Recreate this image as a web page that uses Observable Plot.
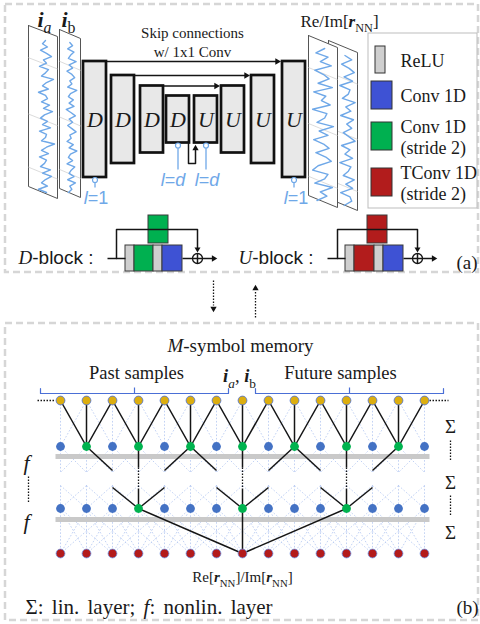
<!DOCTYPE html>
<html><head><meta charset="utf-8">
<script src="https://cdn.jsdelivr.net/npm/d3@7"></script>
<script src="https://cdn.jsdelivr.net/npm/@observablehq/plot@0.6"></script>
<style>body{margin:0;background:#fff}svg{display:block}</style>
</head><body><div id="chart"></div>
<script>
// ---------------- data ----------------
const encoderBlocks = ["D","D","D","D"];
const decoderBlocks = ["U","U","U","U"];
const blockLevels = [1,2,3,4,4,3,2,1];
const skipText = ["Skip connections","w/ 1x1 Conv"];
const dilationBlocks = [0,3,4,7];
const dilationLabels = ["{i:l}=1","{i:l}={i:d}","{i:l}={i:d}","{i:l}=1"];
const inputLabels = ["{bi:i}{isub:a}","{bi:i}{sub:b}"];
const outputLabel = "Re/Im[{bi:r}{sub:NN}]";
const legendKinds = ["relu","conv","conv2","tconv"];
const legendLabels = ["ReLU","Conv 1D","Conv 1D\n(stride 2)","TConv 1D\n(stride 2)"];
const dBlockSeq = ["relu","conv2","relu","conv"];
const uBlockSeq = ["relu","tconv","relu","conv"];
const blockTitles = ["{m:D}-block :","{m:U}-block :"];
const waveIa = [0.1,-0.2,0.3,-0.4,0.2,0.7,-0.1,0.2,-0.5,0.4,0.1,-0.3,0.9,0.2,-0.2,0.4,-0.6,0.1,0.3,-0.3,0.5,-0.1,0.8,0.0,-0.4,0.3,-0.2,0.6,-0.5,0.2,0.1,-0.3,1.0,0.2,-0.3,0.4,-0.5,0.2,0.0,-0.4,0.6,-0.2,0.7,0.1,-0.3,0.3,-0.6,0.2];
const waveIb = [-0.1,0.3,-0.4,0.5,0.0,-0.3,0.8,-0.2,0.3,-0.5,0.2,0.6,-0.1,0.2,-0.4,0.9,0.0,-0.3,0.4,-0.2,0.5,-0.6,0.1,0.7,-0.2,0.3,-0.4,0.2,0.8,-0.1,0.1,-0.5,0.4,-0.2,0.9,0.0,-0.3,0.3,-0.5,0.6,0.1,-0.2,0.5,-0.4,0.7,-0.1,0.2,-0.3];
const waveRe = [0.2,-0.6,0.5,-0.2,0.8,-0.7,0.1,0.6,-0.4,0.9,-0.8,0.3,-0.1,0.7,-0.9,0.4,0.2,-0.5,1.0,-0.3,0.5,-0.8,0.1,0.6,-0.6,0.3,0.8,-0.4,-0.9,0.5,0.2,-0.7,0.9,-0.2,0.4,-0.5];
const waveIm = [-0.3,0.5,-0.7,0.2,0.8,-0.4,0.6,-0.9,0.3,0.1,-0.6,0.9,-0.2,0.4,-0.8,0.7,-0.1,0.5,-0.5,0.2,0.9,-0.7,0.3,-0.3,0.6,-0.9,0.4,0.1,-0.5,0.8,-0.2,0.6,-0.8,0.3,0.5,-0.4];
const memoryTitle = "{i:M}-symbol memory";
const sampleLabels = ["Past samples","{bi:i}{isub:a}, {bi:i}{sub:b}","Future samples"];
const memoryTaps = 15;
const layer1Active = [1,3,5,7,9,11,13];
const layer2Active = [3,7,11];
const outputTap = 7;
const outputText = "Re[{bi:r}{sub:NN}]/Im[{bi:r}{sub:NN}]";
const leftLayerLabels = ["{i:f}","{i:f}"];
const rightLayerLabels = ["Σ","Σ","Σ"];
const footnote = "Σ: lin. layer; {i:f}: nonlin. layer";
const panelTags = ["(a)","(b)"];

// ---------------- layout ----------------
const serif = "Liberation Serif, Times New Roman, serif";
const sans = "Liberation Sans, Arial, sans-serif";
const COL = {relu:"#cfcfcf", conv:"#3e52d4", conv2:"#00b050", tconv:"#b21c1c", wave:"#6fa8e8",
  blue:"#4472c4", yellow:"#dcae10", green:"#00b34f", red:"#b31b1b", brace:"#4a6fd6", lattice:"#9db8ee", lblue:"#6fa8e8"};

const rects = [], links = [], dots = [], tris = [], paths = [];
const L = (x1,y1,x2,y2,g="k") => links.push({x1,y1,x2,y2,g});
const tri = (x,y,dir,r=3.1) => { // tip position, dir: 0 up, 90 right, 180 down
  const d = 2*Math.sqrt(Math.PI*r*r/(3*Math.sqrt(3)));
  const rad = dir*Math.PI/180;
  tris.push({x: x - d*Math.sin(rad), y: y + d*Math.cos(rad), rot: dir, r});
};

// panels
const panels = [{x1:5,x2:478,y1:4,y2:272},{x1:5,x2:478,y1:323,y2:620}];

// U-net blocks
const blockW = 23, blockCy = 119;
const blockHalf = {1:58, 2:44, 3:33.5, 4:23.5};
const blockLeft = [83,111,140,166,194,221,251,282];
const blocks = encoderBlocks.concat(decoderBlocks).map((b,i)=>({t:b, x1:blockLeft[i], x2:blockLeft[i]+blockW,
  y1:blockCy-blockHalf[blockLevels[i]], y2:blockCy+blockHalf[blockLevels[i]], x:blockLeft[i]+blockW/2, y:blockCy}));
for (let i=0;i<3;i++){
  const a = blocks[i], b = blocks[7-i];
  L(a.x2, a.y1, b.x1-5, a.y1);
  tri(b.x1, a.y1, 90, 3.4);
}
// bottleneck
paths.push(...[[188,143],[188,163],[195,163],[195,150]].map(p=>({x:p[0],y:p[1],z:"bn",g:"k"})));
tri(195,143,0,3.1);

// dilation markers
const dilDx = [1,-5,1,2];
const dilCircles = [], dilTexts = [];
dilationBlocks.forEach((bi,k)=>{
  const b = blocks[bi];
  const deep = blockLevels[bi]===4;
  dilCircles.push({x:b.x, y:b.y2+2.5});
  links.push({x1:b.x,y1:b.y2+5,x2:b.x,y2:deep?169:187,g:"lb"});
  dilTexts.push({x:b.x+dilDx[k], y:deep?180:198, t:dilationLabels[k]});
});

// waveform panels
const wavePanels = [
  {id:"Im", pts:[[328,40],[357,52],[357,210],[328,198]], wave:waveIm, cx:347, amp:8.5, yt:55, yb:205},
  {id:"Re", pts:[[308,35],[337,47],[337,207],[308,195]], wave:waveRe, cx:322, amp:11, yt:48, yb:200},
  {id:"Ia", pts:[[28,25],[57,36],[57,198],[28,186]], wave:waveIa, cx:44, amp:10, yt:40, yb:192},
  {id:"Ib", pts:[[59,29],[80,38],[80,197],[59,188]], wave:waveIb, cx:70, amp:7, yt:42, yb:192}
];
const panelMarks = [];
for (const p of wavePanels){
  const poly = p.pts.concat([p.pts[0]]).map(q=>({x:q[0],y:q[1]}));
  panelMarks.push(Plot.line(poly,{x:"x",y:"y",fill:"white",stroke:"#555",strokeWidth:1}));
  const gl = [];
  [0.2,0.55,0.88].forEach((f,j)=>{
    const yl = p.pts[0][1] + f*(p.pts[3][1]-p.pts[0][1]);
    const yr = p.pts[1][1] + f*(p.pts[2][1]-p.pts[1][1]);
    gl.push({x1:p.pts[0][0],y1:yl,x2:p.pts[1][0],y2:yr});
  });
  panelMarks.push(Plot.link(gl,{x1:"x1",y1:"y1",x2:"x2",y2:"y2",stroke:"#d2d2d2",strokeWidth:0.8}));
  const n = p.wave.length;
  const w = p.wave.map((v,i)=>({x:p.cx+p.amp*v, y:p.yt+(p.yb-p.yt)*i/(n-1)}));
  panelMarks.push(Plot.line(w,{x:"x",y:"y",stroke:COL.wave,strokeWidth:1.4}));
}

// legend
const legendBox = [{x1:368,x2:477,y1:33,y2:208}];
const legendCy = [59.5,95,136,182];
const legendRects = legendKinds.map((k,i)=>({k, x1:k==="relu"?375:371, x2:k==="relu"?385:392, y1:legendCy[i]-(k==="relu"?13.5:14), y2:legendCy[i]+(k==="relu"?13.5:14)}));
const legendTexts = legendLabels.map((t,i)=>({t, x:400, y:legendCy[i]}));

// D-block / U-block
const blockDiagrams = [
  {seq:dBlockSeq, x0:125, inX:107, split:116, plus:197, top:"conv2", tx1:148, tx2:168, end:218, title:blockTitles[0], titleX:18},
  {seq:uBlockSeq, x0:345, inX:327, split:337, plus:417, top:"tconv", tx1:367, tx2:387, end:438, title:blockTitles[1], titleX:238}
];
const bw = {relu:9, conv:20, conv2:19, tconv:20};
const dTitles = [];
const plusCircles = [];
for (const d of blockDiagrams){
  const my = 258;
  L(d.inX, my, d.x0, my);
  paths.push(...[[d.split,my],[d.split,229],[d.plus,229],[d.plus,247]].map(p=>({x:p[0],y:p[1],z:"s"+d.x0,g:"k"})));
  tri(d.plus, 253, 180, 2.8);
  let x = d.x0;
  for (const k of d.seq){ rects.push({k, x1:x, x2:x+bw[k], y1:245, y2:271}); x += bw[k]; }
  rects.push({k:d.top, x1:d.tx1, x2:d.tx2, y1:215, y2:243});
  L(x, my, d.plus-5, my);
  plusCircles.push({x:d.plus, y:my});
  L(d.plus-5, my, d.plus+5, my); L(d.plus, my-5, d.plus, my+5);
  L(d.plus+5, my, d.end-5, my);
  tri(d.end, my, 90, 3.1);
  dTitles.push({t:d.title, x:d.titleX, y:257});
}

// arrows between panels
L(213,280,213,305,"dot"); tri(213,313,180,3.1);
L(255,317,255,291,"dot"); tri(255,283,0,3.1);

// memory network
const X = i => 60 + 26*i;
const yIn = 400, yL1 = 446, yL2 = 508, yOut = 553;
const inRange = i => i>=0 && i<memoryTaps;
const lat = [];
for (let i=0;i<memoryTaps;i++){
  for (const d of [-1,0,1]){
    if (inRange(i+d)){
      lat.push({x1:X(i+d),y1:yIn,x2:X(i),y2:yL1});
      lat.push({x1:X(i),y1:yL1,x2:X(i+d),y2:472});
      lat.push({x1:X(i+d),y1:485,x2:X(i),y2:yL2});
    }
  }
  for (const d of [-2,-1,0,1,2]) if (inRange(i+d)) lat.push({x1:X(i+d),y1:yL2,x2:X(i),y2:yOut});
}
const bands = [{x1:55,x2:429,y:456},{x1:55,x2:429,y:519}];
for (const k of layer1Active) for (const d of [-1,0,1]) if (inRange(k+d)) L(X(k+d),yIn,X(k),yL1);
for (const j of layer2Active){
  for (const d of [-2,2]){
    const k = j+d; if (!inRange(k)) continue;
    const s = Math.sign(d);
    L(X(k),yL1,X(k)-s*26,470);
    L(X(j)+s*26,487,X(j),yL2);
  }
  L(X(j),yL1,X(j),467); L(X(j),467,X(j),488,"dot"); L(X(j),488,X(j),yL2);
  L(X(j),yL2,X(outputTap),yOut);
}
L(37,yIn,55,yIn,"dot"); L(429,yIn,448,yIn,"dot");
const nodes = [];
for (let i=0;i<memoryTaps;i++){
  nodes.push({x:X(i),y:yIn,c:COL.yellow,s:COL.brace});
  nodes.push({x:X(i),y:yL1,c:layer1Active.includes(i)?COL.green:COL.blue,s:"none"});
  nodes.push({x:X(i),y:yL2,c:layer2Active.includes(i)?COL.green:COL.blue,s:"none"});
  nodes.push({x:X(i),y:yOut,c:COL.red,s:"#6d8fe0"});
}
// braces
const braces = [[X(0)-20, X(6)+12],[X(8)-13, X(14)+19]];
braces.forEach((b,i)=>{
  paths.push(...[[b[0],388],[b[0],393],[b[1],393],[b[1],388]].map(p=>({x:p[0],y:p[1],z:"br"+i,g:"br"})));
  links.push({x1:(b[0]+b[1])/2,y1:393,x2:(b[0]+b[1])/2,y2:387,g:"br"});
});
L(28,476,28,502,"dot");
L(450,440,450,460,"dot"); L(450,495,450,515,"dot");

// ---------------- draw ----------------
const T = (items, o) => Plot.text(items, {x:"x", y:"y", text:"t", fill:o.fill||"#1a1a1a",
  fontFamily:o.ff||serif, fontSize:o.fs, fontStyle:o.st, fontWeight:o.fw, textAnchor:o.ta||"middle", lineHeight:o.lh||1});
const linkG = (g, o) => Plot.link(links.filter(d=>d.g===g), {x1:"x1",y1:"y1",x2:"x2",y2:"y2", ...o});

const chart = Plot.plot({
  width: 480, height: 624, margin: 0,
  x: {domain:[0,480], range:[0,480], axis:null},
  y: {domain:[0,624], range:[0,624], axis:null},
  style: {background:"white"},
  marks: [
    Plot.rect(panels, {x1:"x1",x2:"x2",y1:"y1",y2:"y2",fill:"none",stroke:"#d6d6d6",strokeWidth:2.5,strokeDasharray:"7,4"}),
    // lattice
    Plot.link(lat, {x1:"x1",y1:"y1",x2:"x2",y2:"y2",stroke:COL.lattice,strokeWidth:0.9,strokeDasharray:"1.6,1.8",strokeOpacity:0.7}),
    Plot.link(bands, {x1:"x1",x2:"x2",y1:"y",y2:"y",stroke:"#c9c9c9",strokeWidth:5}),
    ...panelMarks,
    Plot.rect(legendBox, {x1:"x1",x2:"x2",y1:"y1",y2:"y2",fill:"white",stroke:"#bdbdbd",strokeWidth:1}),
    Plot.rect(legendRects, {x1:"x1",x2:"x2",y1:"y1",y2:"y2",fill:d=>COL[d.k],stroke:"#333",strokeWidth:1}),
    Plot.rect(blocks, {x1:"x1",x2:"x2",y1:"y1",y2:"y2",fill:"#e8e8e8",stroke:"#111",strokeWidth:2.7}),
    Plot.rect(rects, {x1:"x1",x2:"x2",y1:"y1",y2:"y2",fill:d=>COL[d.k],stroke:"#3a3a3a",strokeWidth:1}),
    linkG("k", {stroke:"#151515",strokeWidth:1.5}),
    linkG("dot", {stroke:"#151515",strokeWidth:1.3,strokeDasharray:"1.5,1.5"}),
    linkG("lb", {stroke:COL.lblue,strokeWidth:1.3}),
    linkG("br", {stroke:COL.brace,strokeWidth:1.2}),
    Plot.line(paths.filter(d=>d.g==="k"), {x:"x",y:"y",z:"z",stroke:"#151515",strokeWidth:1.5}),
    Plot.line(paths.filter(d=>d.g==="br"), {x:"x",y:"y",z:"z",stroke:COL.brace,strokeWidth:1.2}),
    Plot.dot(tris, {x:"x",y:"y",rotate:"rot",r:"r",symbol:"triangle2",fill:"#111"}),
    Plot.dot(plusCircles, {x:"x",y:"y",r:5,fill:"none",stroke:"#151515",strokeWidth:1.3}),
    Plot.dot(dilCircles, {x:"x",y:"y",r:2.5,fill:"white",stroke:COL.lblue,strokeWidth:1.2}),
    Plot.dot(nodes, {x:"x",y:"y",r:4.4,fill:"c",stroke:"s",strokeWidth:0.8}),
    // texts
    T(blocks, {fs:22, st:"italic"}),
    T(skipText.map((t,i)=>({t,x:192,y:33+19*i})), {fs:15}),
    T(dilTexts, {fs:18, ff:sans, fill:COL.lblue}),
    T(inputLabels.map((t,i)=>({t,x:[44,68][i],y:19})), {fs:22}),
    T([{t:outputLabel,x:339,y:21}], {fs:17}),
    T(legendTexts, {fs:18, ta:"start", lh:1.2}),
    T(dTitles, {fs:19, ff:sans, ta:"start"}),
    T([{t:panelTags[0],x:456,y:262},{t:panelTags[1],x:456,y:607}], {fs:19, ta:"start"}),
    T([{t:memoryTitle,x:240,y:345}], {fs:19}),
    T(sampleLabels.map((t,i)=>({t,x:[136,239,340][i],y:[373,376,373][i]})), {fs:18.5}),
    T([{t:outputText,x:242,y:577}], {fs:15}),
    T(leftLayerLabels.map((t,i)=>({t,x:26,y:[462,521][i]})), {fs:22}),
    T(rightLayerLabels.map((t,i)=>({t,x:450,y:[426,482,532][i]})), {fs:19}),
    T([{t:footnote,x:25,y:607}], {fs:21, ta:"start"})
  ]
});
document.getElementById("chart").appendChild(chart);

function richify(svg){
  svg.querySelectorAll("text").forEach(node=>{
    const s = node.textContent;
    if (s.startsWith("Σ:")) node.setAttribute("word-spacing", "3");
    if (!/\{[a-z]+:/.test(s)) return;
    const fs = parseFloat(getComputedStyle(node).fontSize) || 12;
    const re = /\{([a-z]+):([^}]*)\}/g;
    const parts = []; let last = 0, m;
    while ((m = re.exec(s))) {
      if (m.index > last) parts.push({k:"n", t:s.slice(last, m.index)});
      parts.push({k:m[1], t:m[2]}); last = re.lastIndex;
    }
    if (last < s.length) parts.push({k:"n", t:s.slice(last)});
    while (node.firstChild) node.removeChild(node.firstChild);
    let shift = 0;
    for (const p of parts){
      const ts = document.createElementNS("http://www.w3.org/2000/svg","tspan");
      ts.textContent = p.t;
      let target = 0;
      if (["i","bi","isub","m"].includes(p.k)) ts.setAttribute("font-style","italic");
      if (["bi","b"].includes(p.k)) ts.setAttribute("font-weight","bold");
      if (p.k==="m") ts.setAttribute("font-family", serif);
      if (p.k==="sub"||p.k==="isub"){ ts.setAttribute("font-size", fs*0.72); target = fs*0.28; }
      if (target !== shift){ ts.setAttribute("dy", target - shift); shift = target; }
      node.appendChild(ts);
    }
  });
}
richify(chart);
</script>
</body></html>
